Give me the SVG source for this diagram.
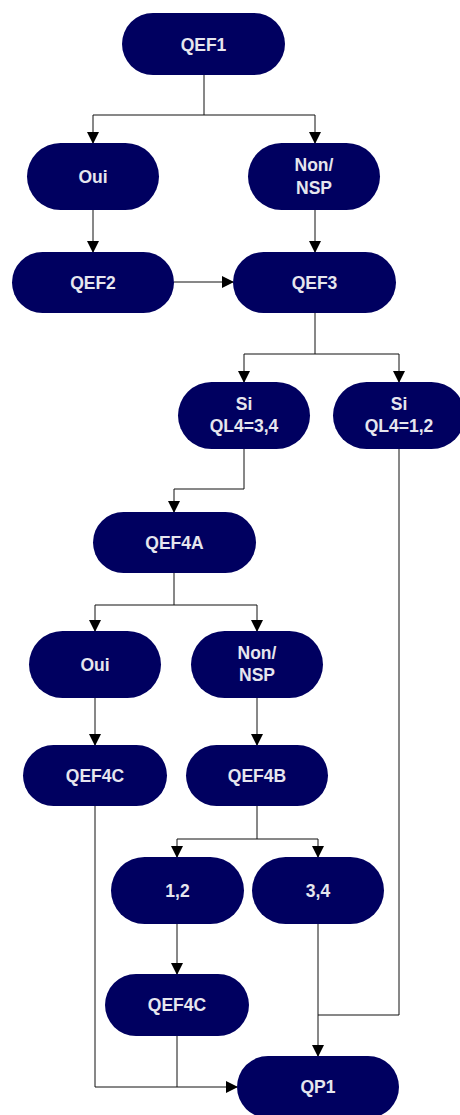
<svg xmlns="http://www.w3.org/2000/svg" width="460" height="1115" viewBox="0 0 460 1115">
<style>
.n{fill:#000060}
.t{fill:#e6e6ee;font-family:"Liberation Sans",Arial,sans-serif;font-weight:bold;font-size:17.5px;text-anchor:middle}
.c{fill:none;stroke:#111;stroke-width:1}
</style>
<defs>
<marker id="a" markerWidth="12" markerHeight="12" refX="11" refY="6" orient="auto" markerUnits="userSpaceOnUse">
<path d="M0,0 L12,6 L0,12 Z" fill="#000"/>
</marker>
</defs>
<rect width="460" height="1115" fill="#fff"/>
<g id="connectors">
<path class="c" d="M204,75 V115 H93 V143" marker-end="url(#a)"/>
<path class="c" d="M204,115 H315 V143" marker-end="url(#a)"/>
<path class="c" d="M93,210 V252" marker-end="url(#a)"/>
<path class="c" d="M315,210 V252" marker-end="url(#a)"/>
<path class="c" d="M174,282 H233" marker-end="url(#a)"/>
<path class="c" d="M315,313 V354 H244 V382" marker-end="url(#a)"/>
<path class="c" d="M315,354 H399 V382" marker-end="url(#a)"/>
<path class="c" d="M244,449 V489 H174 V512" marker-end="url(#a)"/>
<path class="c" d="M174,573 V605 H95 V631" marker-end="url(#a)"/>
<path class="c" d="M174,605 H257 V631" marker-end="url(#a)"/>
<path class="c" d="M95,698 V745" marker-end="url(#a)"/>
<path class="c" d="M257,698 V745" marker-end="url(#a)"/>
<path class="c" d="M257,806 V839 H177 V857" marker-end="url(#a)"/>
<path class="c" d="M257,839 H318 V857" marker-end="url(#a)"/>
<path class="c" d="M177,924 V974" marker-end="url(#a)"/>
<path class="c" d="M318,924 V1056" marker-end="url(#a)"/>
<path class="c" d="M399,449 V1015 H318"/>
<path class="c" d="M95,806 V1087 H237" marker-end="url(#a)"/>
<path class="c" d="M177,1036 V1087"/>
</g>
<g id="qef1"><rect class="n" x="122" y="13" width="163" height="62" rx="31"/><text class="t" x="203.5" y="50.5">QEF1</text></g>
<g id="oui1"><rect class="n" x="27" y="143" width="132" height="67" rx="33.5"/><text class="t" x="93" y="182.5">Oui</text></g>
<g id="non1"><rect class="n" x="248" y="143" width="132" height="67" rx="33.5"/><text class="t" x="314" y="171">Non/</text><text class="t" x="314" y="193.5">NSP</text></g>
<g id="qef2"><rect class="n" x="12" y="252" width="162" height="61" rx="30.5"/><text class="t" x="93" y="289">QEF2</text></g>
<g id="qef3"><rect class="n" x="233" y="252" width="163" height="61" rx="30.5"/><text class="t" x="314.5" y="289">QEF3</text></g>
<g id="si34"><rect class="n" x="178" y="382" width="132" height="67" rx="33.5"/><text class="t" x="244" y="410">Si</text><text class="t" x="244" y="432">QL4=3,4</text></g>
<g id="si12"><rect class="n" x="333" y="382" width="132" height="67" rx="33.5"/><text class="t" x="399" y="410">Si</text><text class="t" x="399" y="432">QL4=1,2</text></g>
<g id="qef4a"><rect class="n" x="93" y="512" width="163" height="61" rx="30.5"/><text class="t" x="174.5" y="549">QEF4A</text></g>
<g id="oui2"><rect class="n" x="29" y="631" width="132" height="67" rx="33.5"/><text class="t" x="95" y="670.5">Oui</text></g>
<g id="non2"><rect class="n" x="191" y="631" width="132" height="67" rx="33.5"/><text class="t" x="257" y="659">Non/</text><text class="t" x="257" y="681">NSP</text></g>
<g id="qef4c1"><rect class="n" x="23" y="745" width="144" height="61" rx="30.5"/><text class="t" x="95" y="782">QEF4C</text></g>
<g id="qef4b"><rect class="n" x="186" y="745" width="142" height="61" rx="30.5"/><text class="t" x="257" y="782">QEF4B</text></g>
<g id="n12"><rect class="n" x="111" y="857" width="133" height="67" rx="33.5"/><text class="t" x="177.5" y="896.5">1,2</text></g>
<g id="n34"><rect class="n" x="252" y="857" width="132" height="67" rx="33.5"/><text class="t" x="318" y="896.5">3,4</text></g>
<g id="qef4c2"><rect class="n" x="105" y="974" width="144" height="62" rx="31"/><text class="t" x="177" y="1011">QEF4C</text></g>
<g id="qp1"><rect class="n" x="237" y="1056" width="162" height="62" rx="31"/><text class="t" x="318" y="1093">QP1</text></g>
</svg>
